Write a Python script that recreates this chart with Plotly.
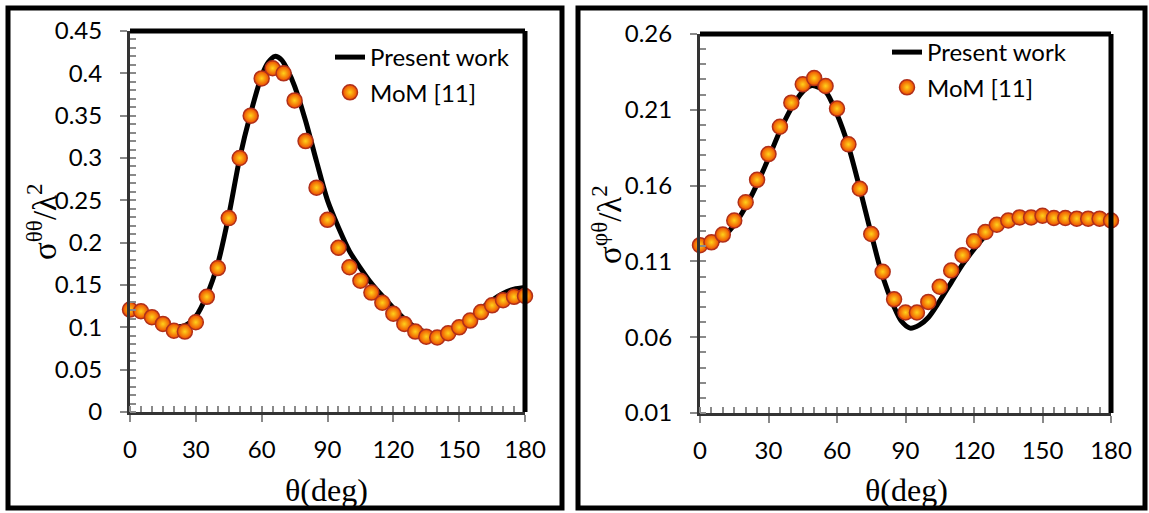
import plotly.graph_objects as go

# ---------------- data ----------------
theta_mom = list(range(0, 181, 5))

# Left panel: sigma^thetatheta / lambda^2
left_mom = [0.121, 0.119, 0.112, 0.104, 0.096, 0.095, 0.106, 0.136, 0.170, 0.229,
            0.300, 0.350, 0.394, 0.406, 0.400, 0.368, 0.320, 0.265, 0.227, 0.194,
            0.171, 0.155, 0.141, 0.129, 0.116, 0.104, 0.095, 0.089, 0.088, 0.093,
            0.100, 0.108, 0.118, 0.126, 0.132, 0.136, 0.137]
left_theta_pw = [0, 5, 10, 15, 20, 25, 30, 35, 40, 45, 50, 55, 60, 63, 66, 69, 72, 75,
                 80, 85, 90, 95, 100, 105, 110, 115, 120, 125, 130, 135, 140, 145,
                 150, 155, 160, 165, 170, 175, 180]
left_pw = [0.120, 0.117, 0.112, 0.106, 0.101, 0.102, 0.113, 0.138, 0.175, 0.232,
           0.300, 0.353, 0.397, 0.413, 0.420, 0.416, 0.403, 0.385, 0.344, 0.296,
           0.250, 0.218, 0.190, 0.170, 0.152, 0.137, 0.123, 0.110, 0.100, 0.094,
           0.092, 0.094, 0.100, 0.110, 0.122, 0.132, 0.140, 0.145, 0.147]

# Right panel: sigma^phitheta / lambda^2
right_mom = [0.1207, 0.1226, 0.1277, 0.137, 0.149, 0.1638, 0.1808, 0.1988, 0.2147, 0.2268,
             0.2309, 0.2257, 0.2108, 0.1872, 0.1579, 0.1281, 0.1032, 0.085, 0.0763, 0.0763,
             0.0833, 0.0933, 0.104, 0.1141, 0.1233, 0.1294, 0.1342, 0.137, 0.139, 0.139,
             0.1401, 0.1386, 0.1386, 0.1382, 0.1382, 0.1382, 0.137]
right_theta_pw = [0, 5, 10, 15, 20, 25, 30, 35, 40, 45, 49, 55, 60, 65, 70, 75, 80, 85,
                  88, 92, 96, 100, 105, 110, 115, 120, 125, 130, 135, 140, 145, 150,
                  155, 160, 165, 170, 175, 180]
right_pw = [0.119, 0.121, 0.126, 0.134, 0.146, 0.161, 0.178, 0.196, 0.211, 0.222,
            0.226, 0.222, 0.207, 0.186, 0.158, 0.128, 0.100, 0.080, 0.071, 0.066,
            0.068, 0.073, 0.084, 0.096, 0.108, 0.118, 0.127, 0.133, 0.136, 0.138,
            0.139, 0.139, 0.139, 0.138, 0.138, 0.138, 0.138, 0.137]

x_tickvals = [0, 30, 60, 90, 120, 150, 180]
x_ticktext = ["0", "30", "60", "90", "120", "150", "180"]
left_tickvals = [0, 0.05, 0.1, 0.15, 0.2, 0.25, 0.3, 0.35, 0.4, 0.45]
left_ticktext = ["0", "0.05", "0.1", "0.15", "0.2", "0.25", "0.3", "0.35", "0.4", "0.45"]
right_tickvals = [0.01, 0.06, 0.11, 0.16, 0.21, 0.26]
right_ticktext = ["0.01", "0.06", "0.11", "0.16", "0.21", "0.26"]

# ---------------- layout helpers ----------------
W, H = 1149, 513
def px(x):
    return x / W
def py(y):
    return 1 - y / H

TICKFONT = dict(family="Lato", size=24, color="black")
TITLEFONT = dict(family="Liberation Serif", size=32, color="black")
YTITLEFONT = dict(family="Liberation Serif", size=33, color="black")
LEGFONT = dict(family="Lato", size=24, color="black")

line_style = dict(color="black", width=5)
marker_style = dict(size=15, color="#EE4A00",
                    gradient=dict(type="radial", color="#FFD21A"),
                    line=dict(color="#B0301A", width=1.5))

fig = go.Figure()
fig.add_trace(go.Scatter(x=left_theta_pw, y=left_pw, mode="lines", name="Present work",
                         line=dict(shape="spline", smoothing=0.8, **line_style),
                         xaxis="x", yaxis="y", legend="legend", legendgroup="l1"))
fig.add_trace(go.Scatter(x=theta_mom, y=left_mom, mode="markers", name="MoM [11]",
                         marker=marker_style, cliponaxis=False,
                         xaxis="x", yaxis="y", legend="legend", legendgroup="l2"))
fig.add_trace(go.Scatter(x=right_theta_pw, y=right_pw, mode="lines", name="Present work",
                         line=dict(shape="spline", smoothing=0.8, **line_style),
                         xaxis="x2", yaxis="y2", legend="legend2", legendgroup="r1"))
fig.add_trace(go.Scatter(x=theta_mom, y=right_mom, mode="markers", name="MoM [11]",
                         marker=marker_style, cliponaxis=False,
                         xaxis="x2", yaxis="y2", legend="legend2", legendgroup="r2"))

def xaxis(domain, anchor):
    return dict(domain=domain, anchor=anchor, range=[0, 180], automargin=False,
                tickmode="array", tickvals=x_tickvals, ticktext=x_ticktext,
                ticks="outside", ticklen=7, tickwidth=2, tickcolor="#8a8a8a",
                minor=dict(tickmode="linear", tick0=0, dtick=5, ticks="inside",
                           ticklen=6, tickwidth=1.5, tickcolor="#8a8a8a"),
                showline=True, linecolor="#333", linewidth=3,
                showgrid=False, zeroline=False, tickfont=TICKFONT,
                ticklabelstandoff=7)

def yaxis(domain, anchor, rng, tv, tt, t0):
    return dict(domain=domain, anchor=anchor, range=rng, automargin=False,
                tickmode="array", tickvals=tv, ticktext=tt,
                ticks="outside", ticklen=7, tickwidth=2, tickcolor="#8a8a8a",
                minor=dict(tickmode="linear", tick0=t0, dtick=0.01, ticks="inside",
                           ticklen=6, tickwidth=1.5, tickcolor="#8a8a8a"),
                showline=True, linecolor="#333", linewidth=3,
                showgrid=False, zeroline=False, tickfont=TICKFONT,
                ticklabelstandoff=13)

shapes = []
# outer chart frames
for x0, x1 in [(8, 562), (578, 1145)]:
    shapes.append(dict(type="rect", xref="paper", yref="paper",
                       x0=px(x0), x1=px(x1), y0=py(508), y1=py(8),
                       line=dict(color="black", width=5), fillcolor="rgba(0,0,0,0)"))
# thick top/right plot borders
for xr, yr in [("x domain", "y domain"), ("x2 domain", "y2 domain")]:
    shapes.append(dict(type="line", xref=xr, yref=yr, x0=0, x1=1, y0=1, y1=1,
                       line=dict(color="black", width=5)))
    shapes.append(dict(type="line", xref=xr, yref=yr, x0=1, x1=1, y0=0, y1=1,
                       line=dict(color="black", width=5)))

annotations = [
    dict(text="θ(deg)", x=px(326), y=py(490), xref="paper", yref="paper",
         showarrow=False, font=TITLEFONT, xanchor="center", yanchor="middle"),
    dict(text="θ(deg)", x=px(906), y=py(490), xref="paper", yref="paper",
         showarrow=False, font=TITLEFONT, xanchor="center", yanchor="middle"),
    dict(text="σ<sup>θθ</sup>/λ<sup>2</sup>", x=px(42), y=py(222), xref="paper", yref="paper",
         showarrow=False, font=YTITLEFONT, textangle=-90, xanchor="center", yanchor="middle"),
    dict(text="σ<sup>φθ</sup>/λ<sup>2</sup>", x=px(607), y=py(225), xref="paper", yref="paper",
         showarrow=False, font=YTITLEFONT, textangle=-90, xanchor="center", yanchor="middle"),
]

fig.update_layout(
    width=W, height=H,
    margin=dict(l=0, r=0, t=0, b=0, pad=0, autoexpand=False),
    paper_bgcolor="white", plot_bgcolor="white",
    xaxis=xaxis([px(130), px(525)], "y"),
    yaxis=yaxis([py(412), py(31)], "x", [0, 0.45], left_tickvals, left_ticktext, 0),
    xaxis2=xaxis([px(700), px(1111)], "y2"),
    yaxis2=yaxis([py(413), py(34)], "x2", [0.01, 0.26], right_tickvals, right_ticktext, 0.01),
    legend=dict(x=px(330), y=py(35), xanchor="left", yanchor="top",
                bgcolor="rgba(0,0,0,0)", font=LEGFONT, tracegroupgap=1),
    legend2=dict(x=px(887), y=py(30), xanchor="left", yanchor="top",
                 bgcolor="rgba(0,0,0,0)", font=LEGFONT, tracegroupgap=1),
    shapes=shapes, annotations=annotations,
    showlegend=True,
)

fig.write_html("out.html",
               config={"displayModeBar": False},
               post_script="document.body.style.margin='0px';"
                           "document.body.style.overflow='hidden';")
